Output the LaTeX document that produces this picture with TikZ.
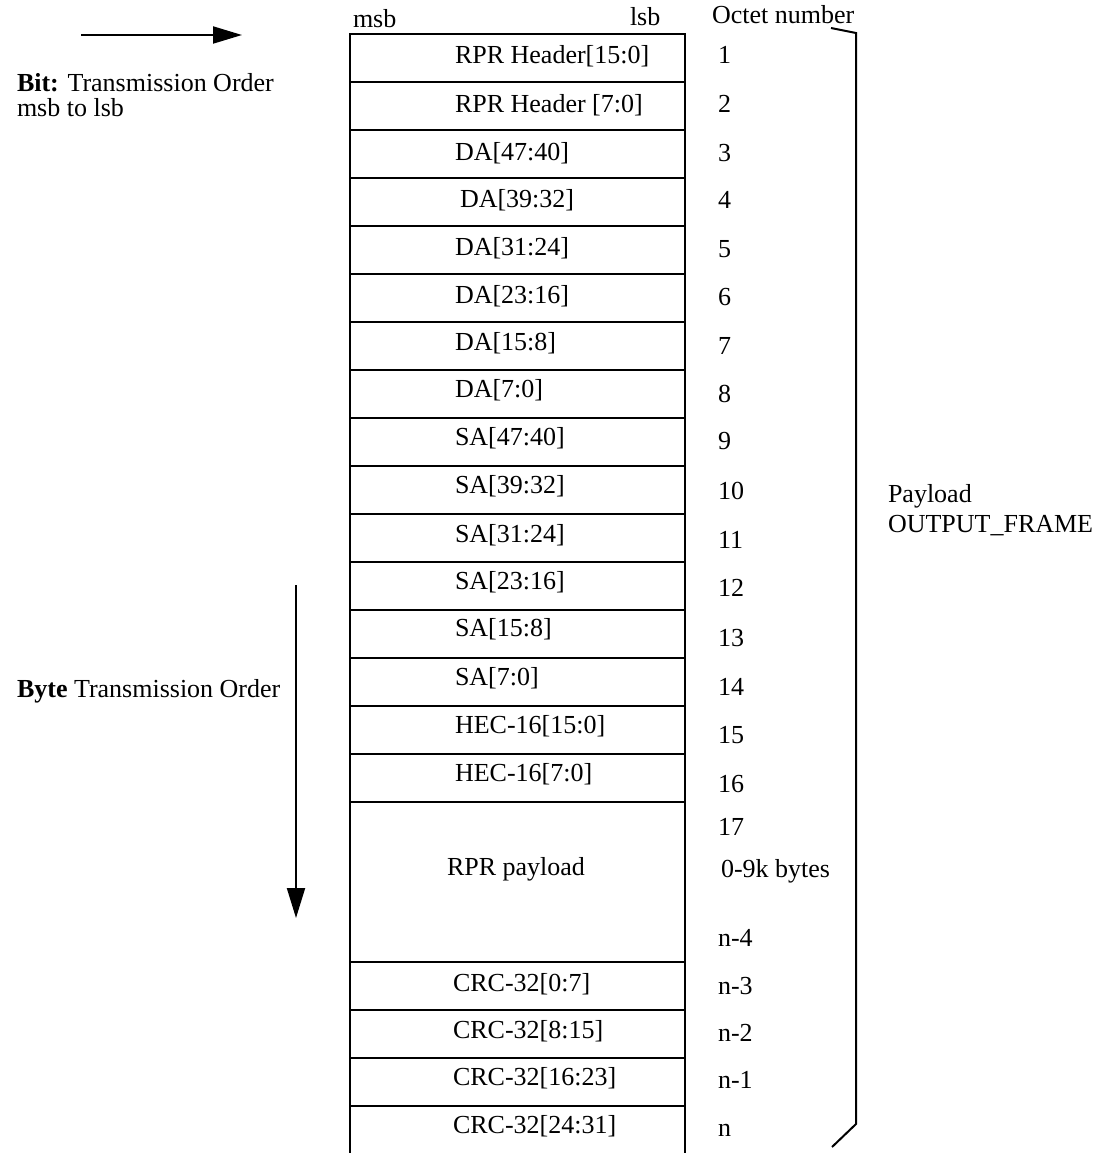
\documentclass[tikz,border=0pt]{standalone}
\usepackage{fontspec}
\setmainfont{Liberation Serif}
\usetikzlibrary{arrows.meta}
\begin{document}
\begin{tikzpicture}[x=1pt,y=-1pt,
  every node/.style={font=\fontsize{26}{30}\selectfont, inner sep=0pt, outer sep=0pt},
  cell/.style={draw, line width=2pt, minimum width=335pt, minimum height=48pt, anchor=north west},
  lbl/.style={anchor=base west},
  ln/.style={line width=2pt},
  tri/.style={-{Triangle[length=29pt,width=17pt]}, line width=2pt}]
\useasboundingbox (0,0) rectangle (1103,1153);

% header texts
\node[lbl] (msb) at (353,28) {msb};
\node[lbl] (lsb) at (630,26) {lsb};
\node[lbl] (octet) at (712,24) {Octet number};

% cells
\node[cell] (c1) at (350,34) {};
\node[cell] (c2) at (350,82) {};
\node[cell] (c3) at (350,130) {};
\node[cell] (c4) at (350,178) {};
\node[cell] (c5) at (350,226) {};
\node[cell] (c6) at (350,274) {};
\node[cell] (c7) at (350,322) {};
\node[cell] (c8) at (350,370) {};
\node[cell] (c9) at (350,418) {};
\node[cell] (c10) at (350,466) {};
\node[cell] (c11) at (350,514) {};
\node[cell] (c12) at (350,562) {};
\node[cell] (c13) at (350,610) {};
\node[cell] (c14) at (350,658) {};
\node[cell] (c15) at (350,706) {};
\node[cell] (c16) at (350,754) {};
\node[cell, minimum height=160pt] (cp) at (350,802) {};
\node[cell] (cc1) at (350,962) {};
\node[cell] (cc2) at (350,1010) {};
\node[cell] (cc3) at (350,1058) {};
\node[cell, draw=none, minimum height=47pt] (cc4) at (350,1106) {};
\draw[ln] (cc4.north west) -- (cc4.south west);
\draw[ln] (cc4.north east) -- (cc4.south east);

% cell labels
\node[lbl] (l1) at (455,64) {RPR Header[15:0]};
\node[lbl] (l2) at (455,113) {RPR Header [7:0]};
\node[lbl] (l3) at (455,160) {DA[47:40]};
\node[lbl] (l4) at (460,207) {DA[39:32]};
\node[lbl] (l5) at (455,255) {DA[31:24]};
\node[lbl] (l6) at (455,303) {DA[23:16]};
\node[lbl] (l7) at (455,350) {DA[15:8]};
\node[lbl] (l8) at (455,397) {DA[7:0]};
\node[lbl] (l9) at (455,445) {SA[47:40]};
\node[lbl] (l10) at (455,493) {SA[39:32]};
\node[lbl] (l11) at (455,542) {SA[31:24]};
\node[lbl] (l12) at (455,589) {SA[23:16]};
\node[lbl] (l13) at (455,636) {SA[15:8]};
\node[lbl] (l14) at (455,685) {SA[7:0]};
\node[lbl] (l15) at (455,733) {HEC-16[15:0]};
\node[lbl] (l16) at (455,781) {HEC-16[7:0]};
\node[lbl] (lp) at (447,875) {RPR payload};
\node[lbl] (lc1) at (453,991) {CRC-32[0:7]};
\node[lbl] (lc2) at (453,1038) {CRC-32[8:15]};
\node[lbl] (lc3) at (453,1085) {CRC-32[16:23]};
\node[lbl] (lc4) at (453,1133) {CRC-32[24:31]};

% octet numbers
\node[lbl] (n1) at (718,64) {1};
\node[lbl] (n2) at (718,113) {2};
\node[lbl] (n3) at (718,161) {3};
\node[lbl] (n4) at (718,208) {4};
\node[lbl] (n5) at (718,257) {5};
\node[lbl] (n6) at (718,305) {6};
\node[lbl] (n7) at (718,354) {7};
\node[lbl] (n8) at (718,402) {8};
\node[lbl] (n9) at (718,449) {9};
\node[lbl] (n10) at (718,499) {10};
\node[lbl] (n11) at (718,548) {11};
\node[lbl] (n12) at (718,596) {12};
\node[lbl] (n13) at (718,646) {13};
\node[lbl] (n14) at (718,695) {14};
\node[lbl] (n15) at (718,743) {15};
\node[lbl] (n16) at (718,792) {16};
\node[lbl] (n17) at (718,835) {17};
\node[lbl] (nk) at (721,877) {0-9k bytes};
\node[lbl] (nn4) at (718,946) {n-4};
\node[lbl] (nn3) at (718,994) {n-3};
\node[lbl] (nn2) at (718,1041) {n-2};
\node[lbl] (nn1) at (718,1088) {n-1};
\node[lbl] (nn) at (718,1136) {n};

% bracket
\coordinate (b1) at (831,28);
\coordinate (b2) at (856,33);
\coordinate (b3) at (856,1124);
\coordinate (b4) at (832,1147);
\draw[ln] (b1) -- (b2) -- (b3) -- (b4);
\node[lbl] (pay1) at (888,502) {Payload};
\node[lbl] (pay2) at (888,532) {OUTPUT\_FRAME};

% bit order arrow
\coordinate (bs) at (81,35);
\coordinate (be) at (242,35);
\draw[tri] (bs) -- (be);
\node[lbl] (bit1) at (17,92) {\textbf{Bit:} Transmission Order};
\node[lbl] (bit2) at (17,117) {msb to lsb};

% byte order arrow
\coordinate (ys) at (296,585);
\coordinate (ye) at (296,918);
\draw[-{Triangle[length=30pt,width=18pt]}, line width=2pt] (ys) -- (ye);
\node[lbl] (byte) at (17,697) {\textbf{Byte} Transmission Order};
\end{tikzpicture}
\end{document}
